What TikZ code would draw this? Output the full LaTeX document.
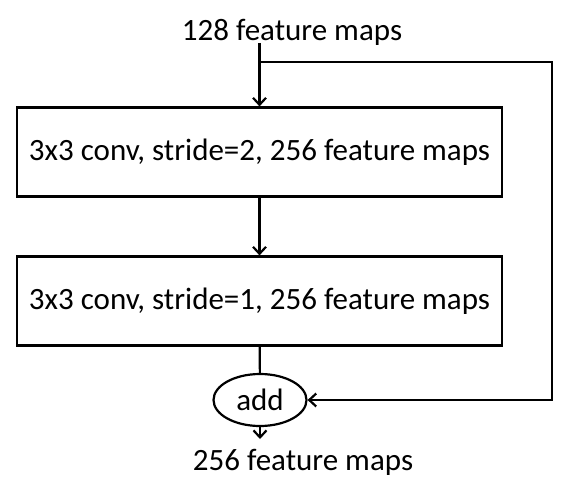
\documentclass[tikz,border=0pt]{standalone}
\usepackage{fontspec}
\setmainfont{Carlito}
\usetikzlibrary{arrows,arrows.meta,shapes,calc}

\begin{document}
\begin{tikzpicture}[x=1pt, y=-1pt]
\tikzstyle{main}=[line width=2.2pt, draw=black, inner sep=0pt, font=\fontsize{31}{37}\selectfont]
\tikzstyle{rect}=[main, rectangle, minimum width=485pt, minimum height=89pt]
\tikzstyle{oval}=[main, ellipse, minimum width=93pt, minimum height=52pt]
\tikzstyle{label}=[inner sep=0pt, font=\fontsize{31}{37}\selectfont]
\tikzstyle{connect}=[-{Straight Barb[length=7pt, width=13pt]}, line width=2.2pt]
\tikzstyle{line}=[line width=2.2pt]

  \useasboundingbox (0,0) rectangle (569,495);

  \node[label] (inmaps)  at (292,41)     [anchor=base] {128 feature maps};
  \node[rect]  (conv1)   at (259.5,152)                {3x3 conv, stride=2, 256 feature maps};
  \node[rect]  (conv2)   at (259.5,301)                {3x3 conv, stride=1, 256 feature maps};
  \node[oval]  (add)     at (260,400)                  {add};
  \node[label] (outmaps) at (303,470)    [anchor=base] {256 feature maps};

  \coordinate (start)  at ($(inmaps.base -| conv1.north)+(0,2)$);
  \coordinate (split)  at (start |- 0,62);
  \coordinate (corner) at (552,62);
  \coordinate (end)    at (add.south |- 0,439);

  % main path
  \path (start) edge [connect] (conv1.north);
  \path (conv1) edge [connect] (conv2);
  \path (conv2) edge [line]    (add);
  \path (add)   edge [connect] (end);

  % shortcut
  \draw [connect] (split) -- (corner) |- (add.east);

\end{tikzpicture}
\end{document}
